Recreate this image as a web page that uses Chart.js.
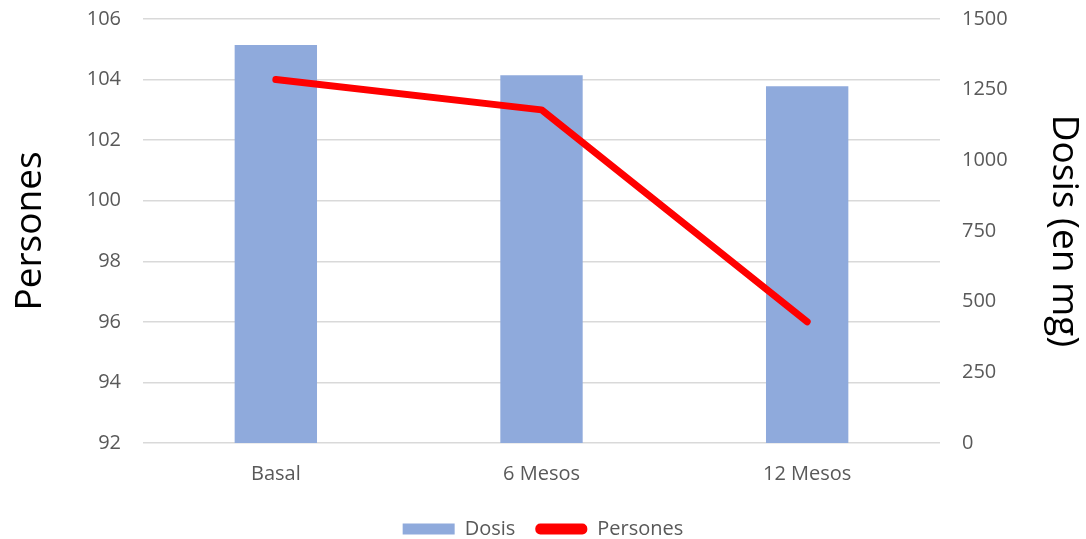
<!DOCTYPE html>
<html>
<head>
<meta charset="utf-8">
<script src="https://cdn.jsdelivr.net/npm/chart.js@4"></script>
<style>
  html, body { margin: 0; padding: 0; background: #fff; }
  #wrap { width: 1086px; height: 539px; }
</style>
</head>
<body>
<div id="wrap"><canvas id="grafica"></canvas></div>
<script>
const etiquetas = ['Basal', '6 Mesos', '12 Mesos'];
const dosis = [1408, 1301, 1262];
const persones = [104, 103, 96];

const fuente = '"Open Sans", sans-serif';
const grisTexto = '#595959';

// ancho fijo de los ejes verticales, sin el margen extra de las etiquetas
function ajustarEje(ancho) {
  return (scale) => {
    scale.width = ancho;
    scale.paddingTop = 0;
    scale.paddingBottom = 0;
  };
}

const ctx = document.getElementById('grafica').getContext('2d');
const grafica = new Chart(ctx, {
  type: 'bar',
  data: {
    labels: etiquetas,
    datasets: [
      {
        label: 'Dosis',
        data: dosis,
        backgroundColor: '#8faadc',
        yAxisID: 'yDosis',
        barPercentage: 0.31,
        categoryPercentage: 1,
        order: 1
      },
      {
        type: 'line',
        label: 'Persones',
        data: persones,
        borderColor: '#ff0000',
        backgroundColor: '#ff0000',
        borderWidth: 7,
        borderCapStyle: 'round',
        borderJoinStyle: 'round',
        pointRadius: 0,
        tension: 0,
        yAxisID: 'yPersones',
        order: 0
      }
    ]
  },
  options: {
    responsive: true,
    maintainAspectRatio: false,
    animation: false,
    layout: { padding: { top: 19, left: 0, right: 0, bottom: -10 } },
    plugins: {
      tooltip: { enabled: false },
      legend: {
        position: 'bottom',
        labels: {
          color: grisTexto,
          font: { family: fuente, size: 20 },
          boxWidth: 52,
          boxHeight: 11,
          padding: 20,
          generateLabels: (chart) => chart.data.datasets.map((ds, i) => ({
            text: ds.label,
            fillStyle: ds.type === 'line' ? ds.borderColor : ds.backgroundColor,
            strokeStyle: ds.type === 'line' ? ds.borderColor : ds.backgroundColor,
            lineWidth: 0,
            borderRadius: ds.type === 'line' ? 5 : 0,
            fontColor: grisTexto,
            datasetIndex: i
          }))
        }
      }
    },
    scales: {
      x: {
        grid: { display: false },
        border: { display: false },
        ticks: { color: grisTexto, font: { family: fuente, size: 20 }, padding: 11 },
        afterFit: (scale) => { scale.height = 56; }
      },
      yPersones: {
        position: 'left',
        min: 92,
        max: 106,
        ticks: { stepSize: 2, color: grisTexto, font: { family: fuente, size: 20 }, padding: 22 },
        grid: { color: '#d9d9d9', lineWidth: 1.5, drawTicks: false },
        border: { display: false },
        title: {
          display: true,
          text: 'Persones',
          color: '#000',
          font: { family: fuente, size: 37 },
          padding: { top: 8, bottom: 0 }
        },
        afterFit: ajustarEje(143)
      },
      yDosis: {
        position: 'right',
        min: 0,
        max: 1500,
        ticks: {
          stepSize: 250,
          color: grisTexto,
          font: { family: fuente, size: 20 },
          padding: 22,
          callback: (v) => String(v)
        },
        grid: { display: false, drawTicks: false },
        border: { display: false },
        title: {
          display: true,
          text: 'Dosis (en mg)',
          color: '#000',
          font: { family: fuente, size: 37 },
          padding: { top: 0, bottom: 0 }
        },
        afterFit: ajustarEje(146)
      }
    }
  }
});
</script>
</body>
</html>
